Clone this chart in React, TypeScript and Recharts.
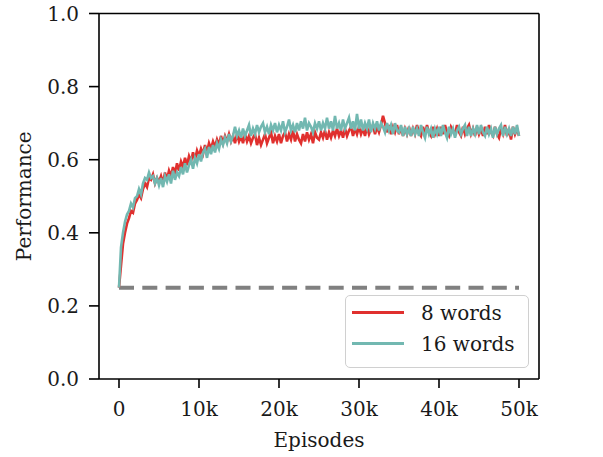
import { LineChart, Line, XAxis, YAxis, ReferenceLine, Legend, Label } from 'recharts'

// one value every 250 episodes, 0 .. 50k
const STEP = 250

const WORDS_8 = [
  0.25, 0.31, 0.37, 0.4, 0.425, 0.44, 0.46, 0.455, 0.48, 0.49,
  0.505, 0.495, 0.52, 0.535, 0.525, 0.55, 0.545, 0.56, 0.535, 0.55,
  0.54, 0.555, 0.535, 0.565, 0.545, 0.57, 0.555, 0.58, 0.56, 0.59,
  0.57, 0.595, 0.58, 0.605, 0.585, 0.61, 0.595, 0.62, 0.6, 0.625,
  0.61, 0.63, 0.615, 0.64, 0.62, 0.645, 0.63, 0.65, 0.635, 0.655,
  0.64, 0.665, 0.645, 0.665, 0.65, 0.67, 0.65, 0.665, 0.645, 0.67,
  0.65, 0.665, 0.645, 0.67, 0.65, 0.665, 0.645, 0.66, 0.67, 0.64,
  0.66, 0.64, 0.655, 0.67, 0.645, 0.66, 0.675, 0.645, 0.665, 0.65,
  0.67, 0.645, 0.665, 0.675, 0.65, 0.67, 0.655, 0.68, 0.65, 0.67,
  0.655, 0.645, 0.67, 0.65, 0.675, 0.655, 0.67, 0.645, 0.675, 0.66,
  0.655, 0.675, 0.66, 0.68, 0.655, 0.675, 0.66, 0.68, 0.665, 0.685,
  0.665, 0.68, 0.66, 0.685, 0.665, 0.68, 0.69, 0.665, 0.685, 0.67,
  0.69, 0.67, 0.685, 0.665, 0.69, 0.67, 0.685, 0.695, 0.67, 0.69,
  0.675, 0.695, 0.72, 0.7, 0.675, 0.695, 0.67, 0.69, 0.675, 0.695,
  0.67, 0.69, 0.665, 0.685, 0.67, 0.69, 0.665, 0.685, 0.67, 0.695,
  0.675, 0.665, 0.69, 0.67, 0.695, 0.675, 0.665, 0.69, 0.67, 0.685,
  0.665, 0.69, 0.67, 0.695, 0.675, 0.665, 0.69, 0.68, 0.67, 0.695,
  0.675, 0.665, 0.69, 0.67, 0.685, 0.695, 0.67, 0.685, 0.665, 0.69,
  0.67, 0.685, 0.665, 0.69, 0.67, 0.695, 0.675, 0.665, 0.69, 0.67,
  0.66, 0.685, 0.67, 0.695, 0.665, 0.685, 0.655, 0.69, 0.67, 0.685,
  0.665,
]

const WORDS_16 = [
  0.25, 0.36, 0.4, 0.43, 0.45, 0.46, 0.48, 0.47, 0.495, 0.5,
  0.52, 0.505, 0.535, 0.55, 0.545, 0.565, 0.55, 0.555, 0.535, 0.55,
  0.53, 0.55, 0.525, 0.555, 0.54, 0.56, 0.535, 0.57, 0.545, 0.565,
  0.555, 0.58, 0.56, 0.59, 0.565, 0.585, 0.6, 0.575, 0.605, 0.59,
  0.615, 0.595, 0.62, 0.63, 0.605, 0.635, 0.615, 0.64, 0.62, 0.645,
  0.63, 0.655, 0.64, 0.66, 0.645, 0.67, 0.65, 0.665, 0.69, 0.665,
  0.68, 0.66, 0.685, 0.665, 0.68, 0.695, 0.665, 0.685, 0.67, 0.695,
  0.675, 0.69, 0.7, 0.675, 0.69, 0.67, 0.695, 0.68, 0.7, 0.675,
  0.695, 0.68, 0.705, 0.675, 0.69, 0.71, 0.68, 0.695, 0.675, 0.7,
  0.68, 0.705, 0.685, 0.715, 0.68, 0.7, 0.69, 0.675, 0.7, 0.685,
  0.705, 0.68, 0.7, 0.685, 0.715, 0.685, 0.705, 0.68, 0.72, 0.685,
  0.7, 0.68, 0.71, 0.685, 0.7, 0.715, 0.685, 0.705, 0.68, 0.725,
  0.685, 0.71, 0.68, 0.7, 0.685, 0.71, 0.675, 0.7, 0.685, 0.705,
  0.68, 0.7, 0.69, 0.675, 0.7, 0.68, 0.695, 0.67, 0.7, 0.68,
  0.675, 0.695, 0.665, 0.69, 0.67, 0.685, 0.665, 0.69, 0.67, 0.685,
  0.665, 0.695, 0.675, 0.66, 0.69, 0.67, 0.685, 0.66, 0.685, 0.67,
  0.69, 0.665, 0.695, 0.675, 0.66, 0.69, 0.67, 0.685, 0.66, 0.68,
  0.69, 0.67, 0.685, 0.695, 0.665, 0.69, 0.665, 0.685, 0.67, 0.695,
  0.67, 0.695, 0.675, 0.665, 0.69, 0.67, 0.685, 0.66, 0.69, 0.67,
  0.685, 0.695, 0.665, 0.69, 0.67, 0.685, 0.665, 0.69, 0.67, 0.695,
  0.665,
]

const CHANCE = 0.25
const X_TICKS = [0, 10000, 20000, 30000, 40000, 50000]
const Y_TICKS = [0, 0.2, 0.4, 0.6, 0.8, 1.0]
const LEGEND_ORDER = ['8 words', '16 words']

const RED = '#e0302e'
const TEAL = '#72b8b1'
const FONT = 'DejaVu Serif'

const data = WORDS_8.map((v, i) => ({
  episode: i * STEP,
  w8: v,
  w16: WORDS_16[i],
  chance: i === 0 || i === WORDS_8.length - 1 ? CHANCE : null,
}))

const tickStyle = { fill: '#1a1a1a', fontSize: 20, fontFamily: FONT }
const spine = { stroke: '#000', strokeWidth: 1.6 }

function fmtEpisodes(v: number) {
  return v === 0 ? '0' : `${v / 1000}k`
}

function YTitle({ viewBox }: any) {
  const cx = viewBox.x + 31
  const cy = viewBox.y + viewBox.height / 2
  return (
    <text x={cx} y={cy} transform={`rotate(-90 ${cx} ${cy})`} textAnchor="middle"
      style={{ fontSize: 20, fontFamily: FONT, fill: '#1a1a1a' }}>
      Performance
    </text>
  )
}

function XTitle({ viewBox }: any) {
  return (
    <text x={viewBox.x + viewBox.width / 2} y={viewBox.y + 68} textAnchor="middle"
      style={{ fontSize: 20, fontFamily: FONT, fill: '#1a1a1a' }}>
      Episodes
    </text>
  )
}

function BoxLegend({ payload }: any) {
  const items = (payload || [])
    .filter((p: any) => p.type !== 'none')
    .sort((a: any, b: any) => LEGEND_ORDER.indexOf(a.value) - LEGEND_ORDER.indexOf(b.value))
  return (
    <div style={{
      boxSizing: 'border-box', width: 184, height: 73, padding: '1px 0 0 6px',
      border: '1.5px solid #d0d0d0', borderRadius: 5, background: 'rgba(255,255,255,0.85)',
    }}>
      {items.map((p: any) => (
        <div key={p.value} style={{ display: 'flex', alignItems: 'center', height: 31 }}>
          <span style={{ display: 'inline-block', width: 52, height: 3, background: p.color }} />
          <span style={{ marginLeft: 17, fontSize: 20, fontFamily: FONT, color: '#1a1a1a', lineHeight: '20px' }}>
            {p.value}
          </span>
        </div>
      ))}
    </div>
  )
}

export default function App() {
  return (
    <div style={{ position: 'absolute', left: 0, top: 0, background: '#fff' }}>
      <LineChart width={603} height={457} data={data} margin={{ top: 13.5, right: 0, bottom: 0, left: 0 }}>
        <XAxis dataKey="episode" type="number" domain={[-2500, 52500]} ticks={X_TICKS}
          tickFormatter={fmtEpisodes} tick={tickStyle} tickSize={9} tickMargin={14}
          axisLine={spine} tickLine={spine} height={78} interval={0}>
          <Label content={XTitle} />
        </XAxis>
        <YAxis yAxisId="left" domain={[0, 1]} ticks={Y_TICKS} tickFormatter={(v: number) => v.toFixed(1)}
          tick={tickStyle} tickSize={10} tickMargin={10} axisLine={spine} tickLine={spine}
          width={99} interval={0}>
          <Label content={YTitle} />
        </YAxis>
        <YAxis yAxisId="right" orientation="right" domain={[0, 1]} ticks={Y_TICKS}
          tickFormatter={(v: number) => v.toFixed(1)} tick={{ ...tickStyle, textAnchor: 'start' }}
          tickSize={10} tickMargin={12} axisLine={spine} tickLine={spine} width={64} interval={0} />
        <ReferenceLine yAxisId="left" y={1} stroke="#000" strokeWidth={1.6} />
        <Line yAxisId="left" dataKey="chance" stroke="#808080" strokeWidth={4} strokeDasharray="15 8.3"
          dot={false} connectNulls legendType="none" isAnimationActive={false} />
        <Line yAxisId="left" dataKey="w8" name="8 words" stroke={RED} strokeWidth={2.6}
          dot={false} isAnimationActive={false} />
        <Line yAxisId="left" dataKey="w16" name="16 words" stroke={TEAL} strokeWidth={2.6}
          dot={false} isAnimationActive={false} />
        <Legend layout="vertical" align="center" verticalAlign="middle" content={BoxLegend}
          wrapperStyle={{ left: 345, top: 295, width: 184, height: 73 }} />
      </LineChart>
    </div>
  )
}
